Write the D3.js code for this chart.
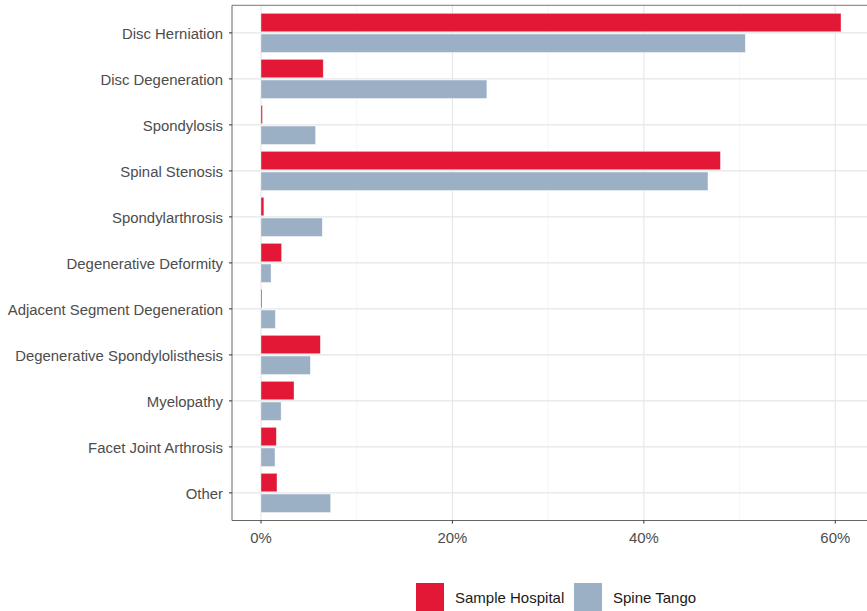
<!DOCTYPE html>
<html><head><meta charset="utf-8">
<script src="https://cdn.jsdelivr.net/npm/d3@7"></script>
<style>body{margin:0;background:#fff}</style>
</head><body>
<script>
const categories = ["Disc Herniation","Disc Degeneration","Spondylosis","Spinal Stenosis","Spondylarthrosis","Degenerative Deformity","Adjacent Segment Degeneration","Degenerative Spondylolisthesis","Myelopathy","Facet Joint Arthrosis","Other"];
const seriesNames = ["Sample Hospital","Spine Tango"];
const sampleHospital = [60.6, 6.5, 0.15, 48.0, 0.3, 2.15, 0.1, 6.2, 3.45, 1.6, 1.67];
const spineTango = [50.6, 23.6, 5.7, 46.7, 6.4, 1.05, 1.5, 5.15, 2.1, 1.46, 7.27];
const xTicks = [0, 20, 40, 60];
const xMinor = [10, 30, 50];
const colors = ["#e31837", "#9bb0c5"];

const W = 867, H = 611;
const svg = d3.select("body").append("svg").attr("width", W).attr("height", H)
  .style("font-family", "'Liberation Sans', Arial, sans-serif");

const panel = {left: 232, right: 870, top: 5.3, bottom: 520.5};
const x = d3.scaleLinear().domain([-3.03, 63.63]).range([panel.left, panel.right]);
const y = d3.scaleLinear().domain([-0.6, categories.length - 1 + 0.6]).range([panel.top, panel.bottom]);

const g = svg.append("g");
g.selectAll("line.minor").data(xMinor).join("line")
  .attr("x1", d => x(d)).attr("x2", d => x(d)).attr("y1", panel.top).attr("y2", panel.bottom)
  .attr("stroke", "#f0f0f0").attr("stroke-width", 0.6);
g.selectAll("line.majx").data(xTicks).join("line")
  .attr("x1", d => x(d)).attr("x2", d => x(d)).attr("y1", panel.top).attr("y2", panel.bottom)
  .attr("stroke", "#e6e6e6").attr("stroke-width", 1.1);
g.selectAll("line.majy").data(categories).join("line")
  .attr("x1", panel.left).attr("x2", panel.right).attr("y1", (d,i) => y(i)).attr("y2", (d,i) => y(i))
  .attr("stroke", "#e6e6e6").attr("stroke-width", 1.1);

const step = y(1) - y(0);
const barH = step * 0.4;
const data = [];
categories.forEach((c, i) => {
  data.push({i, s: 0, v: sampleHospital[i]});
  data.push({i, s: 1, v: spineTango[i]});
});
g.selectAll("rect.bar").data(data).join("rect")
  .attr("x", x(0))
  .attr("width", d => x(d.v) - x(0))
  .attr("y", d => y(d.i + (d.s === 0 ? -0.225 : 0.225)) - barH / 2)
  .attr("height", barH)
  .attr("fill", d => colors[d.s])
  .attr("stroke", "#ffffff").attr("stroke-opacity", 0.6).attr("stroke-width", 0.6);

svg.append("line").attr("x1", panel.left).attr("x2", panel.right).attr("y1", panel.top).attr("y2", panel.top)
  .attr("stroke", "#777").attr("stroke-width", 1);
svg.append("line").attr("x1", panel.left).attr("x2", panel.left).attr("y1", panel.top).attr("y2", panel.bottom)
  .attr("stroke", "#666").attr("stroke-width", 1);
svg.append("line").attr("x1", panel.left).attr("x2", panel.right).attr("y1", panel.bottom).attr("y2", panel.bottom)
  .attr("stroke", "#666").attr("stroke-width", 1);

const yAxis = svg.append("g");
categories.forEach((c, i) => {
  yAxis.append("line").attr("x1", panel.left - 3).attr("x2", panel.left).attr("y1", y(i)).attr("y2", y(i))
    .attr("stroke", "#333").attr("stroke-width", 1);
  yAxis.append("text").attr("x", panel.left - 9).attr("y", y(i) + 1.3).attr("dy", "0.35em")
    .attr("text-anchor", "end").attr("font-size", 14.9).attr("fill", "#4d4d4d").text(c);
});
xTicks.forEach(t => {
  svg.append("line").attr("x1", x(t)).attr("x2", x(t)).attr("y1", panel.bottom).attr("y2", panel.bottom + 3)
    .attr("stroke", "#333").attr("stroke-width", 1);
  svg.append("text").attr("x", x(t)).attr("y", panel.bottom + 22).attr("text-anchor", "middle")
    .attr("font-size", 14.9).attr("fill", "#4d4d4d").text(d3.format(".0f")(t) + "%");
});

const legend = svg.append("g");
const legItems = [{x: 416, label: seriesNames[0], c: colors[0]}, {x: 574, label: seriesNames[1], c: colors[1]}];
legItems.forEach(d => {
  legend.append("rect").attr("x", d.x).attr("y", 583).attr("width", 28).attr("height", 28).attr("fill", d.c);
  legend.append("text").attr("x", d.x + 39).attr("y", 598).attr("dy", "0.35em")
    .attr("font-size", 15).attr("fill", "#1a1a1a").text(d.label);
});
</script>
</body></html>
